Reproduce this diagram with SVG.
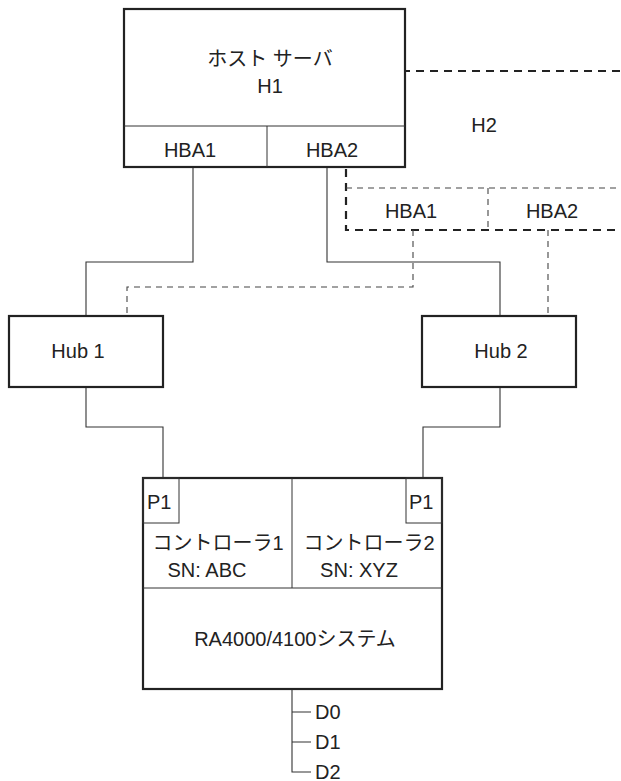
<svg xmlns="http://www.w3.org/2000/svg" width="621" height="781" viewBox="0 0 621 781">
<style>
.box{fill:#fff;stroke:#222;stroke-width:2.2}
.dbox{fill:none;stroke:#222;stroke-width:2.2;stroke-dasharray:8,6}
.in{fill:none;stroke:#333;stroke-width:1}
.dl{fill:none;stroke:#444;stroke-width:1.1;stroke-dasharray:6,5}
.c{fill:none;stroke:#333;stroke-width:1.1}
text{font-family:"Liberation Sans",Arial,"Noto Sans CJK JP",sans-serif;font-size:20px;fill:#222}
.m{text-anchor:middle}
</style>
<rect width="621" height="781" fill="#fff"/>
<g id="H2">
<rect class="dbox" x="346" y="71" width="300" height="159"/>
<line class="dl" x1="346" y1="188" x2="621" y2="188"/>
<line class="dl" x1="488" y1="188" x2="488" y2="230"/>
<text class="m" x="484" y="132">H2</text>
<text class="m" x="411" y="218">HBA1</text>
<text class="m" x="552" y="218">HBA2</text>
</g>
<g id="connectors">
<path class="c" d="M193,168 V262 H86 V316"/>
<path class="c" d="M327,168 V262 H500 V316"/>
<path class="dl" d="M413,230 V287 H127 V316"/>
<path class="dl" d="M548,230 V316"/>
<path class="c" d="M86,387 V427 H163 V478"/>
<path class="c" d="M500,387 V427 H423 V478"/>
<path class="c" d="M292,689 V772 H311 M292,712 H311 M292,742 H311"/>
</g>
<g id="H1">
<rect class="box" x="124" y="9" width="281" height="158"/>
<line class="in" x1="124" y1="126" x2="405" y2="126"/>
<line class="in" x1="267" y1="126" x2="267" y2="167"/>
<text class="m" x="270" y="66">ホスト サーバ</text>
<text class="m" x="270" y="93">H1</text>
<text class="m" x="190" y="157">HBA1</text>
<text class="m" x="332" y="157">HBA2</text>
</g>
<g id="hub1">
<rect class="box" x="9" y="316" width="154" height="71"/>
<text class="m" x="78" y="358">Hub 1</text>
</g>
<g id="hub2">
<rect class="box" x="422" y="316" width="154" height="71"/>
<text class="m" x="501" y="358">Hub 2</text>
</g>
<g id="ra4000">
<rect class="box" x="143" y="478" width="299" height="211"/>
<line class="in" x1="292" y1="478" x2="292" y2="588"/>
<line class="in" x1="143" y1="588" x2="442" y2="588"/>
<rect class="in" x="143" y="478" width="36" height="45"/>
<rect class="in" x="406" y="478" width="36" height="45"/>
<text x="147" y="509">P1</text>
<text x="409" y="509">P1</text>
<text class="m" x="218" y="550">コントローラ1</text>
<text class="m" x="207" y="577">SN: ABC</text>
<text class="m" x="369" y="550">コントローラ2</text>
<text class="m" x="359" y="577">SN: XYZ</text>
<text class="m" x="295" y="646">RA4000/4100システム</text>
</g>
<g id="disks">
<text x="315" y="719">D0</text>
<text x="315" y="749">D1</text>
<text x="315" y="779">D2</text>
</g>
</svg>
